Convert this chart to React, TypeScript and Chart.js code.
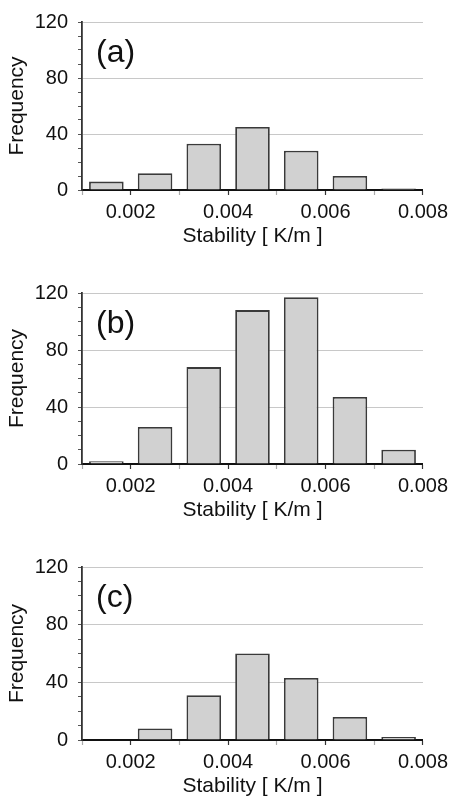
import React, { useEffect, useRef } from 'react';
import { Chart, registerables } from 'chart.js';

Chart.register(...registerables);

// ---- data ----
const binCenters = [0.0015, 0.0025, 0.0035, 0.0045, 0.0055, 0.0065, 0.0075];
const freqA = [6, 12, 33, 45, 28, 10, 1];
const freqB = [2, 26, 68, 108, 117, 47, 10];
const freqC = [0, 8, 31, 60, 43, 16, 2];
const panelLabels = ['(a)', '(b)', '(c)'];
const xTitle = 'Stability [ K/m ]';
const yTitle = 'Frequency';
const yMajorTicks = [0, 40, 80, 120];
const xMajorTicks = [0.002, 0.004, 0.006, 0.008];

const FONT = '"Liberation Sans", Arial, Helvetica, sans-serif';

const panelLabelPlugin = {
  id: 'panelLabel',
  afterDraw(chart: any, _args: any, opts: any) {
    const { ctx, chartArea } = chart;
    ctx.save();
    ctx.font = `32px ${FONT}`;
    ctx.fillStyle = '#111';
    ctx.textBaseline = 'middle';
    ctx.textAlign = 'left';
    ctx.fillText(opts.text, chartArea.left + 14, chartArea.top + 31);
    ctx.restore();
  },
};

function Panel({ values, label, top, height, padTop }: { values: number[]; label: string; top: number; height: number; padTop: number }) {
  const ref = useRef<HTMLCanvasElement | null>(null);
  useEffect(() => {
    if (!ref.current) return;
    const data = binCenters.map((x, i) => ({ x, y: values[i] }));
    const chart = new Chart(ref.current, {
      type: 'bar',
      data: {
        datasets: [
          {
            data: data as any,
            backgroundColor: '#d1d1d1',
            borderColor: '#3a3a3a',
            borderWidth: 1.8,
            categoryPercentage: 1,
            barPercentage: 0.71,
          },
        ],
      },
      plugins: [panelLabelPlugin as any],
      options: {
        animation: false,
        responsive: false,
        maintainAspectRatio: false,
        layout: { padding: { top: padTop, right: 29, left: 0, bottom: 0 } },
        plugins: {
          legend: { display: false },
          tooltip: { enabled: false },
          panelLabel: { text: label },
        } as any,
        scales: {
          x: {
            type: 'linear',
            min: 0.001,
            max: 0.008,
            offset: false,
            afterFit: (s: any) => {
              s.height = 59;
            },
            ticks: {
              stepSize: 0.001,
              autoSkip: false,
              maxRotation: 0,
              padding: 5,
              color: '#111',
              font: { family: FONT, size: 20 },
              callback: (v: any) => {
                const val = Number(v);
                return xMajorTicks.some((m) => Math.abs(m - val) < 1e-9) ? val.toFixed(3) : '';
              },
            },
            grid: {
              offset: false,
              drawOnChartArea: false,
              tickLength: 5,
              tickWidth: 1.2,
              tickColor: (c: any) =>
                c.tick && xMajorTicks.some((m) => Math.abs(m - c.tick.value) < 1e-9) ? '#333' : '#aaa',
            },
            border: { display: true, color: '#111', width: 2 },
            title: {
              display: true,
              text: xTitle,
              color: '#111',
              font: { family: FONT, size: 21 },
              padding: { top: 0, bottom: 0 },
            },
          },
          y: {
            type: 'linear',
            min: 0,
            max: 120,
            afterFit: (s: any) => {
              s.width = 82;
            },
            ticks: {
              stepSize: 10,
              autoSkip: false,
              padding: 10,
              color: '#111',
              font: { family: FONT, size: 20 },
              callback: (v: any) => (yMajorTicks.includes(Number(v)) ? String(v) : ''),
            },
            grid: {
              drawOnChartArea: true,
              tickLength: 4,
              lineWidth: 1,
              tickWidth: 1,
              color: (c: any) =>
                c.tick && c.tick.value > 0 && yMajorTicks.includes(c.tick.value) ? '#c8c8c8' : 'rgba(0,0,0,0)',
              tickColor: '#555',
            },
            border: { display: true, color: '#333', width: 1.8 },
            title: {
              display: true,
              text: yTitle,
              color: '#111',
              font: { family: FONT, size: 21 },
              padding: { top: 5, bottom: 0 },
            },
          },
        },
      },
    });
    return () => chart.destroy();
  }, [values, label, padTop]);
  return (
    <div style={{ position: 'absolute', left: 0, top, width: 453, height }}>
      <canvas ref={ref} width={453} height={height} style={{ display: 'block', width: 453, height }} />
    </div>
  );
}

export default function App() {
  useEffect(() => {
    document.body.style.margin = '0';
    document.body.style.overflow = 'hidden';
  }, []);
  return (
    <div style={{ position: 'relative', width: 453, height: 799, overflow: 'hidden', background: '#fff' }}>
      <Panel values={freqA} label={panelLabels[0]} top={0} height={249} padTop={17} />
      <Panel values={freqB} label={panelLabels[1]} top={255} height={268} padTop={38} />
      <Panel values={freqC} label={panelLabels[2]} top={530} height={269} padTop={37} />
    </div>
  );
}
